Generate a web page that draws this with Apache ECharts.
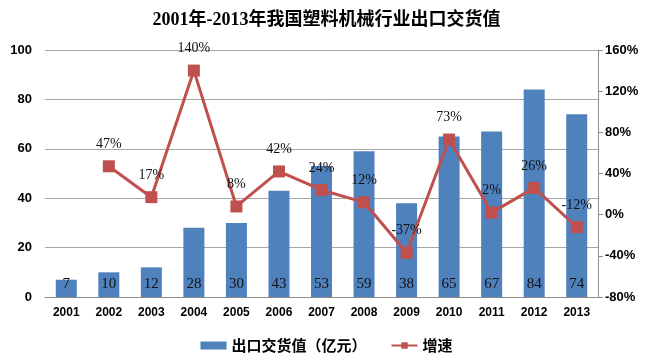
<!DOCTYPE html>
<html><head><meta charset="utf-8">
<script src="https://cdn.jsdelivr.net/npm/echarts@6/dist/echarts.min.js"></script>
<style>html,body{margin:0;padding:0;background:#fff}#c{width:653px;height:361px}</style>
</head><body><div id="c"></div>
<script>
const years = ['2001','2002','2003','2004','2005','2006','2007','2008','2009','2010','2011','2012','2013'];
const exportValue = [7,10,12,28,30,43,53,59,38,65,67,84,74];
const growth = [null,47,17,140,8,42,24,12,-37,73,2,26,-12];
const leftTicks = [0,100,20];
const rightTicks = [-80,160,40];

const serif = '"Liberation Serif","Times New Roman","Noto Sans CJK SC",serif';
const sans = '"Liberation Sans",Arial,sans-serif';
const chart = echarts.init(document.getElementById('c'));
chart.setOption({
  animation:false,
  title:{text:'2001年-2013年我国塑料机械行业出口交货值',left:'center',top:6,
    textStyle:{fontFamily:serif,fontSize:18,fontWeight:'bold',color:'#000'}},
  grid:{left:45,right:55,top:50,bottom:64},
  legend:{bottom:3,left:'center',itemWidth:26,itemHeight:8,itemGap:24,
    textStyle:{fontFamily:'"Noto Sans CJK SC",sans-serif',fontSize:15,color:'#000',fontWeight:'bold'},
    data:[{name:'出口交货值（亿元）',icon:'rect'},{name:'增速'}]},
  xAxis:{type:'category',data:years,
    axisLine:{lineStyle:{color:'#8c8c8c',width:1}},axisTick:{show:false},
    axisLabel:{color:'#000',fontSize:12,fontWeight:'bold',fontFamily:sans,margin:10}},
  yAxis:[
    {type:'value',min:leftTicks[0],max:leftTicks[1],interval:leftTicks[2],
     axisLine:{show:false},axisTick:{show:false},
     axisLabel:{color:'#000',fontSize:13,fontWeight:'bold',fontFamily:sans,margin:13},
     splitLine:{lineStyle:{color:'#a6a6a6',width:1}}},
    {type:'value',min:rightTicks[0],max:rightTicks[1],interval:rightTicks[2],
     axisLine:{show:true,lineStyle:{color:'#8c8c8c'}},axisTick:{show:true,length:5,lineStyle:{color:'#8c8c8c'}},
     axisLabel:{color:'#000',fontSize:13,fontWeight:'bold',fontFamily:sans,margin:7,formatter:'{value}%'},
     splitLine:{show:false}}
  ],
  series:[
    {name:'出口交货值（亿元）',type:'bar',data:exportValue,barWidth:21,
     itemStyle:{color:'#4f81bd'},
     label:{show:true,position:'insideBottom',distance:5,color:'#111',fontFamily:serif,fontSize:15}},
    {name:'增速',type:'line',yAxisIndex:1,data:growth,connectNulls:false,
     lineStyle:{color:'#c0504d',width:3},itemStyle:{color:'#c0504d'},
     symbol:'rect',symbolSize:12,
     label:{show:true,position:'top',distance:9,color:'#111',fontFamily:serif,fontSize:14,formatter:p=>p.value+'%'}}
  ]
});
</script></body></html>
